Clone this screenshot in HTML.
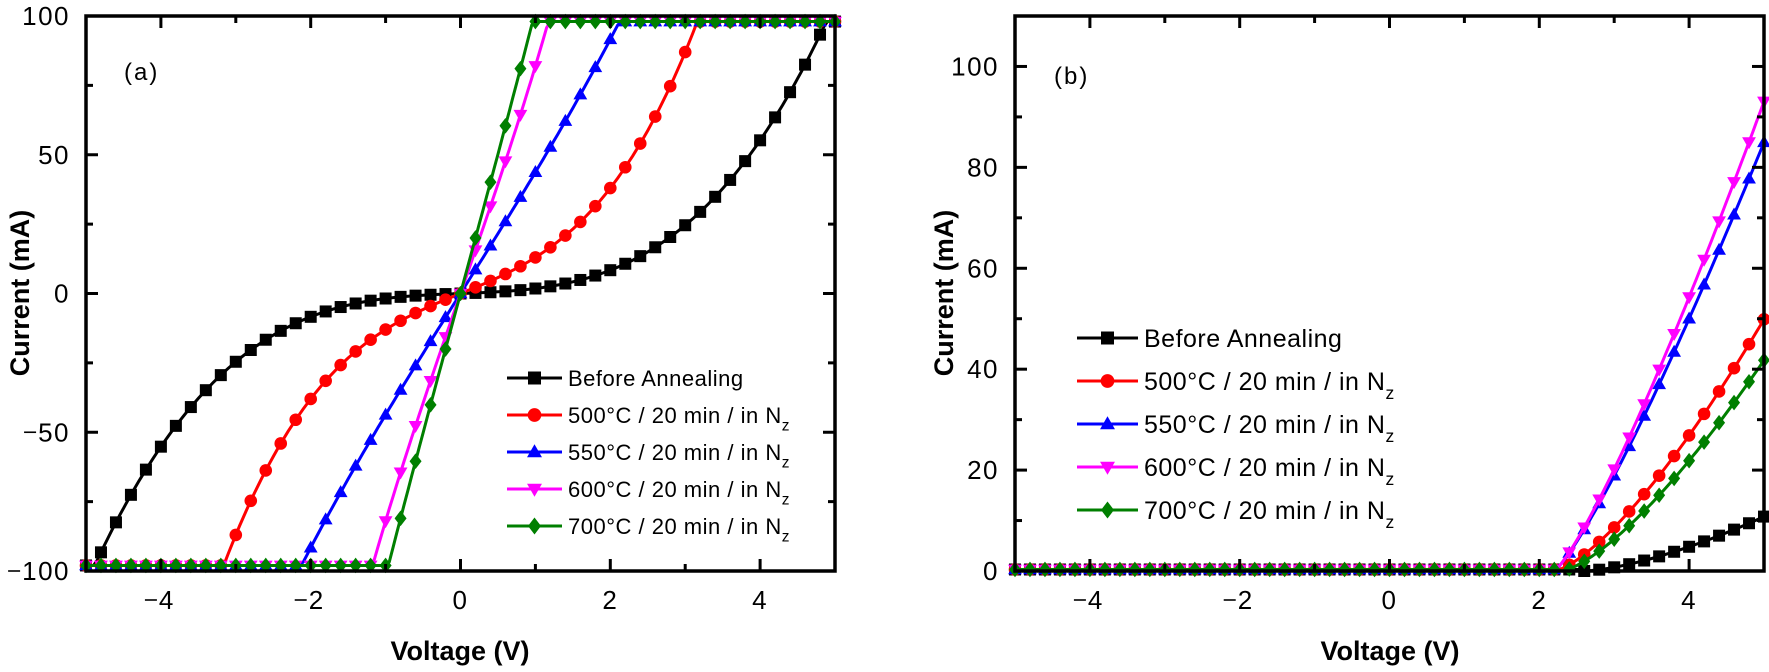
<!DOCTYPE html>
<html><head><meta charset="utf-8"><style>
html,body{margin:0;padding:0;background:#fff;}
svg{display:block;font-family:"Liberation Sans",Arial,sans-serif;}
</style></head><body>
<svg id="s" width="1769" height="672" viewBox="0 0 1769 672" xmlns="http://www.w3.org/2000/svg"></svg>
<script>
const NS="http://www.w3.org/2000/svg";
const s=document.getElementById('s');
function el(t,a,p){const e=document.createElementNS(NS,t);for(const k in a)e.setAttribute(k,a[k]);(p||s).appendChild(e);return e;}
function txt(x,y,str,a){const e=el('text',Object.assign({x:x,y:y},a||{}));e.textContent=str;return e;}
const cols=['#000','#f00','#00f','#f0f','#007f00'];
function marker(g,i,x,y,r){
 const c=cols[i];
 if(i==0) el('rect',{x:x-r,y:y-r,width:2*r,height:2*r,fill:c},g);
 else if(i==1) el('circle',{cx:x,cy:y,r:r*1.05,fill:c},g);
 else if(i==2) el('polygon',{points:`${x},${y-r*1.2} ${x-r*1.15},${y+r*0.8} ${x+r*1.15},${y+r*0.8}`,fill:c},g);
 else if(i==3) el('polygon',{points:`${x},${y+r*1.2} ${x-r*1.15},${y-r*0.8} ${x+r*1.15},${y-r*0.8}`,fill:c},g);
 else el('polygon',{points:`${x},${y-r*1.3} ${x-r},${y} ${x},${y+r*1.3} ${x+r},${y}`,fill:c},g);
}
const LS={'font-size':26,'letter-spacing':1.5,'font-weight':'normal'};
function num(v){return v<0?'-'+Math.abs(v):String(v);}
function lbl(x,y,v,anchor){
 const t=txt(x,y,String(Math.abs(v)),Object.assign({'text-anchor':anchor},LS));
 if(v<0){ // draw minus as thin line to mimic reference
  const bb=t.getBBox();
  el('line',{x1:bb.x-14,y1:y-9,x2:bb.x-2,y2:y-9,stroke:'#000','stroke-width':1.6});
 }
}
function panel(L,R,T,B,ymin,ymax,yticks,yminor,fa,lab,legend){
 const X=v=>L+(v+5)/10*(R-L), Y=v=>B-(v-ymin)/(ymax-ymin)*(B-T);
 const clip='c'+L;
 const d=el('defs',{});const cp=el('clipPath',{id:clip},d);el('rect',{x:L-8,y:T-8,width:R-L+16,height:B-T+16},cp);
 const g=el('g',{'clip-path':`url(#${clip})`});
 for(let i=0;i<5;i++){
  let pts=[];
  for(let k=0;k<=200;k++){const v=-5+k*0.05;let y=fa(i,v);pts.push(X(v).toFixed(1)+','+Y(y).toFixed(1));}
  el('polyline',{points:pts.join(' '),fill:'none',stroke:cols[i],'stroke-width':3},g);
  for(let k=0;k<=50;k++){const v=-5+k*0.2;marker(g,i,X(v),Y(fa(i,v)),6);}
 }
 el('rect',{x:L,y:T,width:R-L,height:B-T,fill:'none',stroke:'#000','stroke-width':3.5});
 for(let v=-4;v<=4;v+=2){el('line',{x1:X(v),y1:B,x2:X(v),y2:B-12,stroke:'#000','stroke-width':3});el('line',{x1:X(v),y1:T,x2:X(v),y2:T+12,stroke:'#000','stroke-width':3});
  lbl(X(v)+(v<0?6:0),B+38,v,'middle');}
 for(let v=-5;v<=5;v+=2){el('line',{x1:X(v),y1:B,x2:X(v),y2:B-7,stroke:'#000','stroke-width':3});el('line',{x1:X(v),y1:T,x2:X(v),y2:T+7,stroke:'#000','stroke-width':3});}
 yticks.forEach(v=>{el('line',{x1:L,y1:Y(v),x2:L+12,y2:Y(v),stroke:'#000','stroke-width':3});el('line',{x1:R,y1:Y(v),x2:R-12,y2:Y(v),stroke:'#000','stroke-width':3});
  lbl(L-16,Y(v)+9,v,'end');});
 yminor.forEach(v=>{el('line',{x1:L,y1:Y(v),x2:L+7,y2:Y(v),stroke:'#000','stroke-width':3});el('line',{x1:R,y1:Y(v),x2:R-7,y2:Y(v),stroke:'#000','stroke-width':3});});
 txt(lab[0],lab[1],lab[2],{'font-size':24,'letter-spacing':2});
 const names=['Before Annealing','500°C / 20 min / in N','550°C / 20 min / in N','600°C / 20 min / in N','700°C / 20 min / in N'];
 for(let i=0;i<5;i++){const y=legend.y0+i*legend.dy;
  el('line',{x1:legend.x1,y1:y,x2:legend.x2,y2:y,stroke:cols[i],'stroke-width':3});
  marker(s,i,(legend.x1+legend.x2)/2,y,6.5);
  const t=txt(legend.x2+6,y+legend.fs*0.36,names[i],{'font-size':legend.fs,'letter-spacing':0.5});
  if(i>0){const ts=document.createElementNS(NS,'tspan');ts.setAttribute('dy',legend.fs*0.35);ts.setAttribute('font-size',legend.fs*0.7);ts.textContent='z';t.appendChild(ts);}
 }
}
const clamp=v=>Math.max(-98,Math.min(98,v));
function fa(i,v){const f=[v=>1*v+0.8*v*v*v,v=>11*v+2*v*v*v,v=>43*v+0.7*v*v*v,v=>78*v+4*v*v*v,v=>100*v+2*v*v*v][i];return clamp(f(v));}
function fb(i,v){const p=[[2.6,2.9,1.5],[2.2,11.8,1.4],[2.2,24.7,1.2],[2.2,26.5,1.22],[2.3,10.4,1.4]][i];
 return v>p[0]?p[1]*Math.pow(v-p[0],p[2]):0.3;}
panel(86,835,16,571,-100,100,[-100,-50,0,50,100],[-75,-25,25,75],fa,[124,80,'(a)'],{y0:378,dy:37,x1:507,x2:562,fs:22});
panel(1015,1764,16,571,0,110,[0,20,40,60,80,100],[10,30,50,70,90],fb,[1054,84,'(b)'],{y0:338,dy:43,x1:1077,x2:1138,fs:25});
txt(460,660,'Voltage (V)',{'font-size':27,'font-weight':'bold','text-anchor':'middle'});
txt(1390,660,'Voltage (V)',{'font-size':27,'font-weight':'bold','text-anchor':'middle'});
txt(0,0,'Current (mA)',{'font-size':27,'font-weight':'bold','text-anchor':'middle',transform:'translate(29,293) rotate(-90)'});
txt(0,0,'Current (mA)',{'font-size':27,'font-weight':'bold','text-anchor':'middle',transform:'translate(953,293) rotate(-90)'});
</script>
</body></html>
